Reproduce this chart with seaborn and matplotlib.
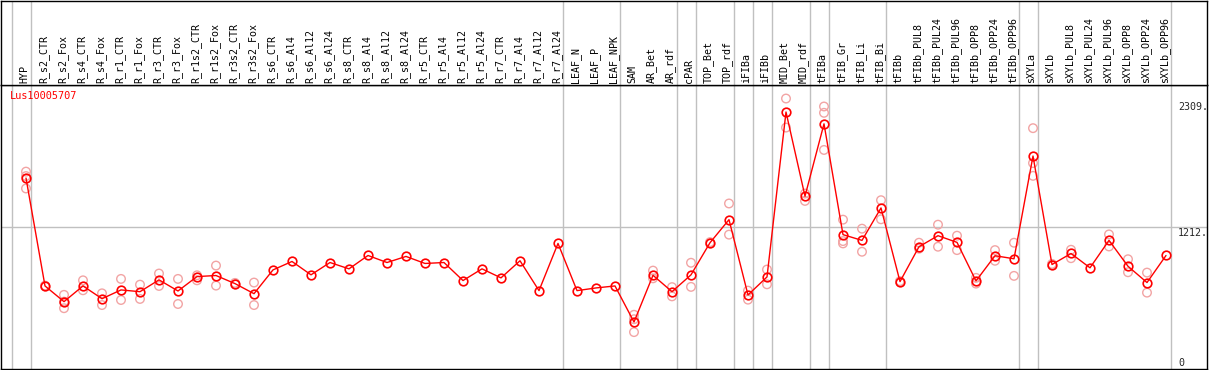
import matplotlib
matplotlib.use("Agg")
import matplotlib.pyplot as plt
import seaborn as sns
import pandas as pd

gene = "Lus10005707"

samples = [
    "HYP", "R_s2_CTR", "R_s2_Fox", "R_s4_CTR", "R_s4_Fox", "R_r1_CTR", "R_r1_Fox",
    "R_r3_CTR", "R_r3_Fox", "R_r1s2_CTR", "R_r1s2_Fox", "R_r3s2_CTR", "R_r3s2_Fox",
    "R_s6_CTR", "R_s6_Al4", "R_s6_Al12", "R_s6_Al24", "R_s8_CTR", "R_s8_Al4",
    "R_s8_Al12", "R_s8_Al24", "R_r5_CTR", "R_r5_Al4", "R_r5_Al12", "R_r5_Al24",
    "R_r7_CTR", "R_r7_Al4", "R_r7_Al12", "R_r7_Al24", "LEAF_N", "LEAF_P", "LEAF_NPK",
    "SAM", "AR_Bet", "AR_rdf", "cPAR", "TOP_Bet", "TOP_rdf", "iFIBa", "iFIBb",
    "MID_Bet", "MID_rdf", "tFIBa", "tFIB_Gr", "tFIB_Li", "tFIB_Bi", "tFIBb",
    "tFIBb_PUL8", "tFIBb_PUL24", "tFIBb_PUL96", "tFIBb_OPP8", "tFIBb_OPP24",
    "tFIBb_OPP96", "sXYLa", "sXYLb", "sXYLb_PUL8", "sXYLb_PUL24", "sXYLb_PUL96",
    "sXYLb_OPP8", "sXYLb_OPP24", "sXYLb_OPP96",
]

mean_values = [
    1630, 709, 575, 709, 600, 675, 660, 761, 666, 789, 798, 729, 643,
    846, 918, 804, 909, 855, 969, 909, 961, 901, 909, 755, 855,
    778, 924, 669, 1072, 669, 692, 709,
    401, 800, 660, 804, 1078, 1275, 632, 786,
    2194, 1475, 2093, 1147, 1098, 1375, 746,
    1044, 1138, 1081, 752, 967, 941,
    1818, 892, 986, 864, 1098, 877, 738, 969,
]

replicates = [
    [1685, 1647, 1541], [712, 705], [633, 575, 519], [757, 672], [646, 546],
    [769, 589], [720, 598], [815, 709], [769, 555], [800, 757], [883, 712],
    [735, 723], [738, 546],
    [], [], [], [], [], [], [], [], [], [], [], [], [], [], [], [], [], [], [],
    [463, 425, 315], [840, 774], [699, 620], [907, 701], [1083, 1073],
    [1413, 1147], [669, 592], [849, 723],
    [2309, 2061], [1498, 1435], [2241, 2187, 1870], [1275, 1092, 1072],
    [1198, 1001], [1441, 1278], [750, 742],
    [1078, 1027], [1232, 1044], [1138, 1015], [778, 729], [1015, 924], [1078, 795],
    [2056, 1758, 1649], [897, 887], [1018, 946], [], [1149, 1046], [937, 826],
    [823, 652], [],
]

# indices of columns after which a group separator is drawn
separators_after = [-1, 0, 28, 31, 34, 35, 37, 38, 39, 41, 42, 45, 52, 53, 60]

# ---------------------------------------------------------------------------
W, H = 1209, 370
sns.set_style("white")
plt.rcParams["font.family"] = ["DejaVu Sans Mono", "DejaVu Sans"]

fig = plt.figure(figsize=(W / 100, H / 100), dpi=100)
fig.patch.set_facecolor("white")

px_left, px_right = 1, 1207
ax_top_px, ax_bot_px = 85, 369
ax = fig.add_axes([px_left / W, (H - ax_bot_px) / H,
                   (px_right - px_left) / W, (ax_bot_px - ax_top_px) / H])
hx = fig.add_axes([px_left / W, (H - ax_top_px) / H,
                   (px_right - px_left) / W, (ax_top_px - 0.5) / H])

col0_px, step_px = 26, 19
xmin = (px_left - col0_px) / step_px
xmax = (px_right - col0_px) / step_px

all_reps = [v for r in replicates for v in r]
max_val = max(all_reps + mean_values)
ymax = max_val * 1.05

grey = "#c0c0c0"
for a in (ax, hx):
    a.set_xlim(xmin, xmax)
    a.set_xticks([])
    a.set_yticks([])
    a.set_xlabel("")
    a.set_ylabel("")
    a.set_facecolor("white")
    for s in a.spines.values():
        s.set_color("black")
        s.set_linewidth(1.0)
    for i in separators_after:
        a.axvline(i + 0.25, color=grey, linewidth=1.0, zorder=0)
hx.set_ylim(0, 1)
ax.set_ylim(0, ymax)

ax.axhline(ymax / 2, color=grey, linewidth=1.0, zorder=0)

# replicates
rep_df = pd.DataFrame({
    "pos": [i for i, r in enumerate(replicates) for _ in r],
    "value": all_reps,
})
sns.scatterplot(data=rep_df, x="pos", y="value", ax=ax, marker="o", s=38,
                facecolor="none", edgecolor="#f2a4a4", linewidth=1.0,
                zorder=2, legend=False)

# means
mean_df = pd.DataFrame({"pos": range(len(samples)), "value": mean_values})
sns.lineplot(data=mean_df, x="pos", y="value", ax=ax, color="red",
             linewidth=1.0, marker="o", markersize=6.2, markerfacecolor="none",
             markeredgecolor="red", markeredgewidth=1.2, zorder=3)
ax.set_xlabel("")
ax.set_ylabel("")
ax.set_xlim(xmin, xmax)
ax.set_ylim(0, ymax)

# sample labels in header
for i, name in enumerate(samples):
    hx.text(i - 0.08, 2 / 85, name, rotation=90, ha="center", va="bottom",
            fontsize=7.2, color="black")

# gene label
ax.annotate(gene, xy=(0, 1), xycoords="axes fraction", xytext=(9, -6),
            textcoords="offset pixels", ha="left", va="top",
            fontsize=7.4, color="red")

# right value labels
lab_x = (1178 - col0_px) / step_px
ax.annotate(f"{int(max_val)}.", xy=(lab_x, max_val), xytext=(0, -3),
            textcoords="offset pixels", ha="left", va="top", fontsize=7.2)
ax.annotate(f"{int(ymax / 2)}.", xy=(lab_x, ymax / 2), xytext=(0, -0.5),
            textcoords="offset pixels", ha="left", va="top", fontsize=7.2)
ax.annotate("0", xy=(lab_x, 0), xytext=(0, 1),
            textcoords="offset pixels", ha="left", va="bottom", fontsize=7.2)

fig.savefig("out.png", dpi=100)
